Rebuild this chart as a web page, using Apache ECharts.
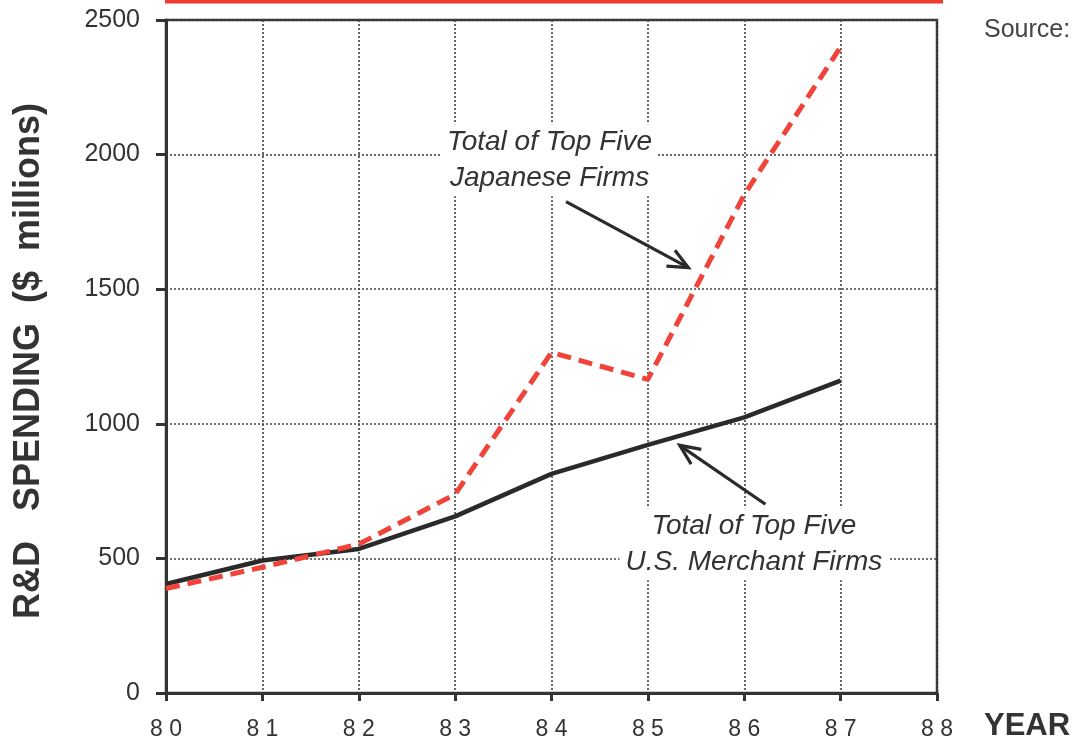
<!DOCTYPE html>
<html>
<head>
<meta charset="utf-8">
<script src="https://cdn.jsdelivr.net/npm/echarts@6/dist/echarts.min.js"></script>
<style>
  html, body { margin: 0; padding: 0; background: #fff; }
  #chart { width: 1077px; height: 741px; }
</style>
</head>
<body>
<div id="chart"></div>
<script>
// R&D spending, $ millions, 1980–1987
const years = [80, 81, 82, 83, 84, 85, 86, 87];
const usMerchant = [405, 492, 535, 656, 814, 922, 1024, 1160];
const japanese = [388, 467, 553, 738, 1265, 1165, 1851, 2400];
const yTicks = [0, 500, 1000, 1500, 2000, 2500];

const FONT = '"Liberation Sans", Arial, Helvetica, sans-serif';
const INK = '#333';
const RED = '#f0443a';

const chart = echarts.init(document.getElementById('chart'), null, { renderer: 'canvas' });

const grid = { left: 166, right: 140, top: 20, bottom: 47, show: true, borderColor: INK, borderWidth: 2.5, backgroundColor: 'transparent' };

chart.setOption({
  animation: false,
  backgroundColor: '#fff',
  grid: grid,
  xAxis: {
    type: 'value', min: 80, max: 88, interval: 1,
    axisLine: { show: true, onZero: false, lineStyle: { color: INK, width: 3 } },
    axisTick: { show: true, length: 8, lineStyle: { color: INK, width: 3 } },
    axisLabel: {
      color: INK, fontFamily: FONT, fontSize: 23, margin: 25,
      formatter: v => String(v).split('').join(' ')
    },
    splitLine: {
      show: true,
      lineStyle: { color: '#444', width: 1.6, type: [2, 2] }
    }
  },
  yAxis: {
    type: 'value', min: 0, max: 2500, interval: 500,
    axisLine: { show: true, lineStyle: { color: INK, width: 3 } },
    axisTick: { show: true, length: 10, lineStyle: { color: INK, width: 3 } },
    axisLabel: {
      color: INK, fontFamily: FONT, fontSize: 25, margin: 26,
      formatter: v => yTicks.includes(v) ? String(v) : ''
    },
    splitLine: {
      show: true,
      lineStyle: { color: '#444', width: 1.6, type: [2, 2] }
    }
  },
  series: [
    {
      name: 'Total of Top Five U.S. Merchant Firms',
      type: 'line',
      data: years.map((y, i) => [y, usMerchant[i]]),
      symbol: 'none',
      lineStyle: { color: '#2a2a2a', width: 4.5 },
      z: 3
    },
    {
      name: 'Total of Top Five Japanese Firms',
      type: 'line',
      data: years.map((y, i) => [y, japanese[i]]),
      symbol: 'none',
      lineStyle: { color: RED, width: 5, type: [14, 8] },
      z: 4
    }
  ]
});

// Callouts placed in data coordinates
const callouts = [
  { lines: ['Total of Top Five', 'Japanese Firms'], at: [83.98, 1979],
    from: [84.15, 1825], to: [85.42, 1580] },
  { lines: ['Total of Top Five', 'U.S. Merchant Firms'], at: [86.1, 553],
    from: [86.22, 701], to: [85.33, 920] }
];

const px = p => chart.convertToPixel({ gridIndex: 0 }, p);

const graphics = [];

// red rule along the top
graphics.push({
  type: 'rect', left: 165, top: 0, z: 10,
  shape: { width: 778, height: 3.5 },
  style: { fill: '#ee3a2f' }
});

callouts.forEach(c => {
  const [cx, cy] = px(c.at);
  graphics.push({
    type: 'text', x: cx, y: cy, z: 20,
    style: {
      text: c.lines.join('\n'),
      font: 'italic 28px ' + FONT,
      fill: INK,
      align: 'center', verticalAlign: 'middle',
      lineHeight: 36,
      backgroundColor: '#fff',
      padding: [0, 6]
    }
  });
  const [x1, y1] = px(c.from);
  const [x2, y2] = px(c.to);
  const ang = Math.atan2(y2 - y1, x2 - x1);
  const hl = 22, spread = 0.42;
  graphics.push({
    type: 'line', z: 21,
    shape: { x1, y1, x2, y2 },
    style: { stroke: '#2a2a2a', lineWidth: 3.2 }
  });
  graphics.push({
    type: 'polyline', z: 21,
    shape: {
      points: [
        [x2 - hl * Math.cos(ang - spread), y2 - hl * Math.sin(ang - spread)],
        [x2, y2],
        [x2 - hl * Math.cos(ang + spread), y2 - hl * Math.sin(ang + spread)]
      ]
    },
    style: { stroke: '#2a2a2a', lineWidth: 3.2, fill: null }
  });
});

// axis titles and source note
graphics.push({
  type: 'text', x: 29, y: 361, rotation: Math.PI / 2, z: 20,
  style: {
    text: 'R&D   SPENDING  ($  millions)',
    font: 'bold 36px ' + FONT,
    fill: INK, align: 'center', verticalAlign: 'middle'
  }
});
graphics.push({
  type: 'text', x: 984, y: 726, z: 20,
  style: {
    text: 'YEAR', font: 'bold 31px ' + FONT,
    fill: INK, align: 'left', verticalAlign: 'middle'
  }
});
graphics.push({
  type: 'text', x: 984, y: 30, z: 20,
  style: {
    text: 'Source:', font: '25px ' + FONT,
    fill: '#444', align: 'left', verticalAlign: 'middle'
  }
});

chart.setOption({ graphic: graphics });
</script>
</body>
</html>
